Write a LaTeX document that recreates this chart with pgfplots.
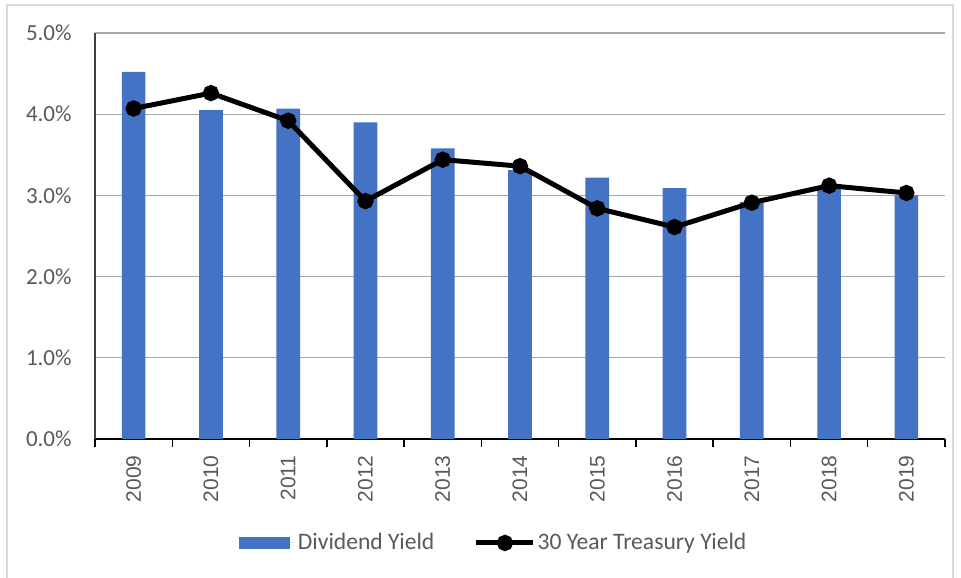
\documentclass[border=0pt]{standalone}
\usepackage{pgfplots}
\pgfplotsset{compat=1.18}
\usepackage{fontspec}
\setmainfont{Carlito}
\newfontfamily\arialf{Liberation Sans}
\definecolor{barblue}{HTML}{4472C4}
\definecolor{lblgray}{HTML}{595959}
\definecolor{gridgray}{HTML}{A6A6A6}
\definecolor{bordergray}{HTML}{D9D9D9}
\begin{document}
\begin{tikzpicture}
\path[use as bounding box] (0,0) rectangle (480.5pt,288.5pt);
\draw[bordergray, line width=0.7pt] (3.5pt,-1pt) -- (3.5pt,286pt) -- (476.5pt,286pt) -- (476.5pt,-1pt);
\begin{axis}[
  at={(47.5pt,69pt)}, anchor=south west,
  scale only axis, width=425pt, height=203pt,
  xmin=-0.5, xmax=10.5, ymin=0, ymax=5,
  axis lines*=left,
  x axis line style={black, line width=0.7pt},
  y axis line style={draw=black!75, line width=0.7pt},
  ymajorgrids, grid style={gridgray, line width=0.6pt},
  ytick={0,1,2,3,4,5},
  yticklabels={0.0\%,1.0\%,2.0\%,3.0\%,4.0\%,5.0\%},
  xtick={0,1,2,3,4,5,6,7,8,9,10},
  xticklabels={2009,2010,2011,2012,2013,2014,2015,2016,2017,2018,2019},
  major tick length=0pt,
  minor xtick={-0.5,0.5,...,10.5},
  minor tick length=4pt,
  tick align=outside,
  minor x tick style={black, line width=0.7pt},
  yticklabel style={anchor=east, inner sep=0pt, xshift=-11.5pt, text=lblgray, font=\fontsize{11.5}{13}\selectfont},
  xticklabel style={rotate=90, anchor=east, inner sep=0pt, text=lblgray, font=\arialf\fontsize{10.5}{12}\selectfont},
  xticklabel shift=8pt,
  legend style={draw=none, fill=none, at={(0.469,-0.256)}, anchor=center,
    font=\fontsize{11.8}{13}\selectfont, text=lblgray,
    nodes={inner xsep=0.8pt, inner ysep=0pt},
    /tikz/every even column/.append style={column sep=19pt}},
  legend columns=2,
  legend cell align=left,
]
\addplot[ybar, bar width=11.85pt, fill=barblue, draw=none,
  legend image code/.code={\fill[barblue] (0pt,-3pt) rectangle (25.5pt,3pt); \path (0pt,0pt) -- (28.5pt,0pt);}]
  coordinates {(0,4.52) (1,4.05) (2,4.07) (3,3.90) (4,3.58) (5,3.31) (6,3.22) (7,3.09) (8,2.92) (9,3.09) (10,3.00)};
\addlegendentry{Dividend Yield}
\addplot[black, line width=2.5pt, mark=*, mark size=2.8pt, mark options={solid},
  legend image code/.code={\draw[black, line width=2.5pt] (0pt,0pt) -- (28.5pt,0pt); \fill[black] (14.25pt,0pt) circle (2.8pt);}]
  coordinates {(0,4.07) (1,4.26) (2,3.92) (3,2.93) (4,3.44) (5,3.36) (6,2.84) (7,2.61) (8,2.91) (9,3.12) (10,3.03)};
\addlegendentry{30 Year Treasury Yield}
\end{axis}
\end{tikzpicture}
\end{document}
